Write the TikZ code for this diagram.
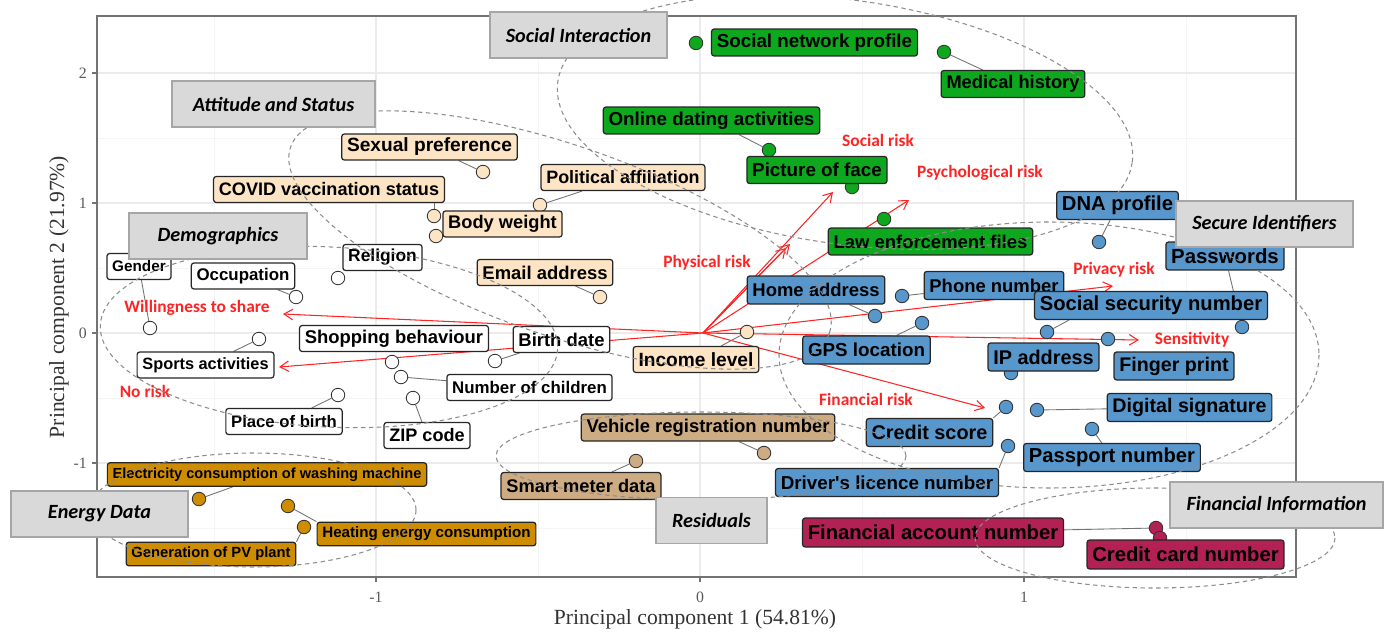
\documentclass[tikz,border=0pt]{standalone}
\usepackage{fontspec}
\setmainfont{Liberation Serif}
\newfontfamily\arialfont{Liberation Sans}
\newfontfamily\califont{Carlito}
\usepackage{xcolor}
\usetikzlibrary{calc}
\usetikzlibrary{positioning,arrows.meta}

\definecolor{peach}{RGB}{252,228,196}
\definecolor{grn}{RGB}{14,168,30}
\definecolor{blu}{RGB}{88,151,204}
\definecolor{tanres}{RGB}{205,172,132}
\definecolor{crim}{RGB}{178,32,84}
\definecolor{golden}{RGB}{206,140,0}
\definecolor{riskred}{RGB}{255,36,36}
\definecolor{boxgray}{RGB}{217,217,217}

\newcommand{\boxfont}[1]{\arialfont\bfseries\fontsize{#1}{#1}\selectfont}

\pgfdeclarelayer{back}
\pgfdeclarelayer{lines}
\pgfdeclarelayer{top}
\pgfsetlayers{back,lines,main,top}

\tikzset{
lbl/.style={draw=black!85, line width=0.7pt, rounded corners=1.5pt, inner xsep=3pt, inner ysep=1pt, minimum height=0.52cm, text=black},
dem/.style={lbl, fill=white, font=\boxfont{#1}}, dem/.default=9.6,
att/.style={lbl, fill=peach, font=\boxfont{#1}}, att/.default=10.5,
soc/.style={lbl, fill=grn, font=\boxfont{#1}, minimum height=0.54cm}, soc/.default=10.6,
sec/.style={lbl, fill=blu, font=\boxfont{#1}, minimum height=0.56cm}, sec/.default=11.3,
res/.style={lbl, fill=tanres, font=\boxfont{#1}, minimum height=0.54cm}, res/.default=10.5,
fin/.style={lbl, fill=crim, font=\boxfont{#1}, minimum height=0.58cm}, fin/.default=11.5,
nrg/.style={lbl, fill=golden, font=\boxfont{#1}, minimum height=0.47cm}, nrg/.default=8.4,
pt/.style={circle, draw=black!80, line width=0.5pt, minimum size=0.27cm, inner sep=0pt, fill=#1},
leader/.style={draw=black!55, line width=0.5pt},
grp/.style={draw=black!35, line width=0.7pt, fill=boxgray, minimum width=#1, minimum height=0.92cm,
  font=\califont\bfseries\itshape\fontsize{11.5}{11.5}\selectfont},
risk/.style={riskred, line width=0.6pt, -{Straight Barb[length=5pt,width=6pt]}},
risklbl/.style={text=riskred, font=\califont\bfseries\fontsize{9.9}{9.9}\selectfont, inner sep=0pt},
clus/.style={draw=black!45, line width=0.6pt, dash pattern=on 2.5pt off 2pt},
tick/.style={font=\fontsize{9}{9}\selectfont, text=black!65, inner sep=1pt}
}

\begin{document}
\begin{tikzpicture}[x=0.02cm,y=-0.02cm]
\useasboundingbox (0,0) rectangle (1390,632);

\begin{pgfonlayer}{back}
\foreach \gx in {214,538,862,1186} \draw[gray!8,line width=0.5pt] (\gx,16) -- (\gx,577);
\foreach \gy in {138,268,398,528} \draw[gray!8,line width=0.5pt] (97,\gy) -- (1296,\gy);
\foreach \gx in {376,700,1024} \draw[gray!16,line width=0.9pt] (\gx,16) -- (\gx,577);
\foreach \gy in {73,203,333,463} \draw[gray!16,line width=0.9pt] (97,\gy) -- (1296,\gy);
\draw[black!55,line width=0.8pt] (97,16) rectangle (1296,577);
\foreach \gx/\tl in {376/-1,700/0,1024/1} {
  \draw[black!55,line width=0.6pt] (\gx,577) -- (\gx,582);
  \node[tick] (xt\tl) at (\gx,597) {\tl};
}
\foreach \gy/\tl in {73/2,203/1,333/0,463/-1} {
  \draw[black!55,line width=0.6pt] (92,\gy) -- (97,\gy);
  \node[tick,anchor=east] (yt\tl) at (89,\gy) {\tl};
}
\node[font=\fontsize{12.3}{12.3}\selectfont, text=black!80] (xtitle) at (695,619) {Principal component 1 (54.81\%)};
\node[font=\fontsize{12.3}{12.3}\selectfont, text=black!80, rotate=90] (ytitle) at (59,297) {Principal component 2 (21.97\%)};
\end{pgfonlayer}

% points
\node[pt=white] (p-gender) at (150,328) {};
\node[pt=white] (p-occup) at (296,297) {};
\node[pt=white] (p-relig) at (338,278) {};
\node[pt=white] (p-shop) at (392,362) {};
\node[pt=white] (p-sports) at (259,339) {};
\node[pt=white] (p-birth) at (495,361) {};
\node[pt=white] (p-nchild) at (401,377) {};
\node[pt=white] (p-pob) at (338,395) {};
\node[pt=white] (p-zip) at (413,398) {};
\node[pt=peach] (p-sexpref) at (483,172) {};
\node[pt=peach] (p-covid) at (434,216) {};
\node[pt=peach] (p-bodyw) at (436,236) {};
\node[pt=peach] (p-polit) at (540,205) {};
\node[pt=peach] (p-email) at (600,297) {};
\node[pt=peach] (p-income) at (747,332) {};
\node[pt=grn] (p-snp) at (696,43) {};
\node[pt=grn] (p-medhist) at (944,52) {};
\node[pt=grn] (p-dating) at (769,150) {};
\node[pt=grn] (p-face) at (852,187) {};
\node[pt=grn] (p-lawenf) at (884,219) {};
\node[pt=blu] (p-dna) at (1099,242) {};
\node[pt=blu] (p-pwd) at (1242,327) {};
\node[pt=blu] (p-home) at (875,316) {};
\node[pt=blu] (p-phone) at (902,296) {};
\node[pt=blu] (p-gps) at (922,323) {};
\node[pt=blu] (p-ssn) at (1047,332) {};
\node[pt=blu] (p-ip) at (1011,373) {};
\node[pt=blu] (p-finger) at (1108,339) {};
\node[pt=blu] (p-digsig) at (1037,410) {};
\node[pt=blu] (p-credscore) at (1006,407) {};
\node[pt=blu] (p-passport) at (1092,429) {};
\node[pt=blu] (p-driver) at (1008,446) {};
\node[pt=tanres] (p-vehicle) at (764,453) {};
\node[pt=tanres] (p-smart) at (636,461) {};
\node[pt=crim] (p-finacc) at (1156,528) {};
\node[pt=crim] (p-ccard) at (1160,538) {};
\node[pt=golden] (p-elec) at (199,499) {};
\node[pt=golden] (p-heat) at (288,506) {};
\node[pt=golden] (p-pv) at (304,527) {};

% labels
\node[dem=8.7] (gender) at (139,266.5) {Gender};
\node[dem] (occup) at (243,276) {Occupation};
\node[dem=9.9] (relig) at (382.5,257.5) {Religion};
\node[dem=10.5] (shop) at (394,338.5) {Shopping behaviour};
\node[dem=10.5] (birth) at (561.5,339.5) {Birth date};
\node[dem=9.3] (sports) at (205.5,365) {Sports activities};
\node[dem] (nchild) at (529.5,387.5) {Number of children};
\node[dem=9.5] (pob) at (284,421.5) {Place of birth};
\node[dem=10.3] (zip) at (427,435.5) {ZIP code};

\node[att=10.9] (sexpref) at (429.5,147) {Sexual preference};
\node[att=10.3] (covid) at (329,189.5) {COVID vaccination status};
\node[att=10.2] (polit) at (623,177.5) {Political affiliation};
\node[att=10.4] (bodyw) at (502.5,224) {Body weight};
\node[att] (email) at (545,272.5) {Email address};
\node[att=10.9] (income) at (696,359.5) {Income level};

\node[soc=10.7] (snp) at (814.5,42.5) {Social network profile};
\node[soc=10.4] (medhist) at (1013,84) {Medical history};
\node[soc=10.7] (dating) at (711.5,120.5) {Online dating activities};
\node[soc=10.7] (face) at (817,170) {Picture of face};
\node[soc=10.5] (lawenf) at (930.5,241.5) {Law enforcement files};

\node[sec=11.5] (dna) at (1117.5,205.5) {DNA profile};
\node[sec=11.6] (pwd) at (1225,256) {Passwords};
\node[sec=10.5] (home) at (816,290) {Home address};
\node[sec=10.5] (phone) at (994,285.5) {Phone number};
\node[sec=11.5] (ssn) at (1151,305.5) {Social security number};
\node[sec=10.7] (gps) at (866.5,350) {GPS location};
\node[sec] (ip) at (1043.5,357) {IP address};
\node[sec=11.2] (finger) at (1174,366) {Finger print};
\node[sec=11.2] (digsig) at (1189.5,407.5) {Digital signature};
\node[sec] (credscore) at (929.5,432.5) {Credit score};
\node[sec=11.5] (passport) at (1112,457.5) {Passport number};
\node[sec=10.7] (driver) at (887,482.5) {Driver's licence number};

\node[res] (vehicle) at (708,427.5) {Vehicle registration number};
\node[res=10.4] (smart) at (581,486) {Smart meter data};

\node[fin] (finacc) at (933,532.5) {Financial account number};
\node[fin] (ccard) at (1185.5,554.5) {Credit card number};

\node[nrg=8.3] (elec) at (267,474.5) {Electricity consumption of washing machine};
\node[nrg=8.6] (heat) at (426.5,534) {Heating energy consumption};
\node[nrg] (pv) at (211,554) {Generation of PV plant};

% risk vectors
\coordinate (O) at (703,333);
\coordinate (t-will) at (283,314);
\coordinate (t-norisk) at (279,367);
\coordinate (t-phys) at (790,244);
\coordinate (t-phys2) at (786,248);
\coordinate (t-social) at (833,192);
\coordinate (t-psych) at (909,200);
\coordinate (t-privacy) at (1113,286);
\coordinate (t-sens) at (1139,340);
\coordinate (t-fin) at (985,408);

\node[risklbl] (r-will) at (197,308) {Willingness to share};
\node[risklbl] (r-norisk) at (145,391) {No risk};
\node[risklbl] (r-phys) at (707,263) {Physical risk};
\node[risklbl] (r-social) at (878,140) {Social risk};
\node[risklbl] (r-psych) at (980,173) {Psychological risk};
\node[risklbl] (r-privacy) at (1114,270) {Privacy risk};
\node[risklbl] (r-sens) at (1192,340) {Sensitivity};
\node[risklbl] (r-fin) at (866,399) {Financial risk};

\begin{pgfonlayer}{lines}
\foreach \t in {will,norisk,phys,phys2,social,psych,privacy,sens,fin}
  \draw[risk] (O) -- (t-\t);
\foreach \n in {gender,occup,sports,birth,nchild,pob,zip,sexpref,polit,email,income,
  medhist,dating,dna,pwd,home,phone,gps,digsig,passport,vehicle,smart,finacc,elec}
  \draw[leader] (p-\n) -- (\n);
\draw[leader] (p-covid) -- (p-covid |- covid.south);
\draw[leader] (p-ssn) -- ([xshift=0.7cm]ssn.south west);
\draw[leader] (p-credscore) -- (credscore.north east);
\draw[leader] (p-driver) -- (driver.north east);
\draw[leader] (p-heat) -- (heat.north west);
\draw[leader] (p-pv) -- (pv.north east);
\end{pgfonlayer}

\begin{pgfonlayer}{top}
% cluster ellipses
\draw[clus, rotate around={-8:(845,122)}] (845,122) ellipse (290 and 122);
\draw[clus, rotate around={-19:(560,240)}] (560,240) ellipse (285 and 95);
\draw[clus, rotate around={-3:(329,337)}] (329,337) ellipse (229 and 90);
\draw[clus] (1049,355) ellipse (270 and 133);
\draw[clus] (701,456) ellipse (205 and 44);
\draw[clus] (1155,538) ellipse (180 and 50);
\draw[clus] (253,510) ellipse (163 and 57);

\node[grp=3.54cm] (g-social) at (578.5,35) {Social Interaction};
\node[grp=4.06cm] (g-att) at (273.5,104) {Attitude and Status};
\node[grp=3.56cm] (g-demo) at (218,236) {Demographics};
\node[grp=3.54cm] (g-secure) at (1264.5,224) {Secure Identifiers};
\node[grp=3.54cm] (g-energy) at (99.5,514) {Energy Data};
\node[grp=2.22cm] (g-res) at (711.5,520.5) {Residuals};
\node[grp=4.26cm] (g-fin) at (1276.5,505) {Financial Information};
\end{pgfonlayer}

\end{tikzpicture}
\end{document}
